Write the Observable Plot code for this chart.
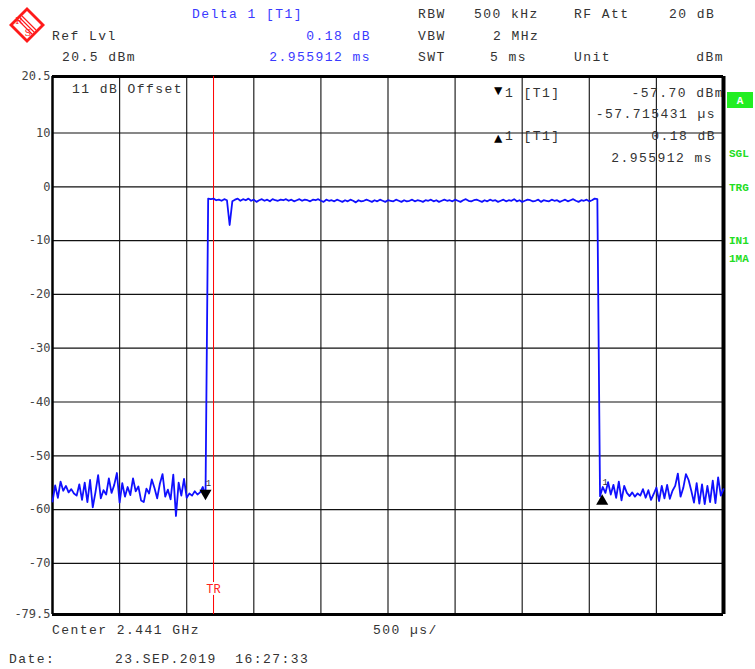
<!DOCTYPE html>
<html>
<head>
<meta charset="utf-8">
<script src="https://cdn.jsdelivr.net/npm/d3@7"></script>
<script src="https://cdn.jsdelivr.net/npm/@observablehq/plot@0.6"></script>
<style>
  html, body { margin: 0; padding: 0; background: #fff; }
  #chart svg { display: block; }
</style>
</head>
<body>
<div id="chart"></div>
<script>
// ---- data ----
const sampleStepMs = 0.02; // sweep point spacing (5 ms / 250)
const noiseLeft = [-58.5,-55.5,-57.8,-54.8,-56.5,-55.6,-56.8,-56.2,-57.0,-57.4,
  -55.3,-58.2,-55.0,-58.6,-54.5,-59.6,-56.8,-53.6,-57.9,-56.4,
  -57.2,-54.2,-56.9,-55.4,-53.2,-58.7,-55.1,-57.6,-55.8,-57.3,
  -54.2,-56.6,-55.7,-58.3,-58.6,-56.1,-57.0,-54.4,-56.0,-57.9,
  -55.2,-53.4,-57.6,-56.3,-58.1,-53.5,-61.2,-55.0,-57.4,-54.3,
  -57.8,-57.0,-57.4,-56.6,-57.2,-56.8,-55.8,-57.7];
const plateau = [-2.2,-2.3,-2.2,-2.5,-2.4,-2.6,-2.3,-2.5,-7.1,-2.7,
  -2.4,-2.2,-2.6,-2.3,-2.5,-2.2,-2.6,-2.4,-2.8,-2.5,
  -2.3,-2.6,-2.4,-2.7,-2.3,-2.5,-2.6,-2.4,-2.5,-2.3,
  -2.6,-2.4,-2.7,-2.5,-2.3,-2.6,-2.4,-2.5,-2.7,-2.4,
  -2.5,-2.3,-2.6,-2.8,-2.4,-2.6,-2.5,-2.7,-2.4,-2.6,
  -2.8,-2.5,-2.7,-2.4,-2.6,-2.9,-2.5,-2.7,-2.6,-2.4,
  -2.6,-2.8,-2.5,-2.7,-2.4,-2.6,-2.8,-2.5,-2.6,-2.7,
  -2.4,-2.6,-2.8,-2.5,-2.7,-2.6,-2.4,-2.7,-2.5,-2.6,
  -2.8,-2.5,-2.6,-2.4,-2.7,-2.5,-2.8,-2.6,-2.4,-2.6,
  -2.5,-2.7,-2.4,-2.6,-2.8,-2.5,-2.3,-2.6,-2.7,-2.5,
  -2.4,-2.6,-2.8,-2.5,-2.7,-2.4,-2.6,-2.5,-2.8,-2.6,
  -2.4,-2.7,-2.5,-2.6,-2.3,-2.7,-2.5,-2.8,-2.6,-2.4,
  -2.5,-2.7,-2.6,-2.4,-2.8,-2.5,-2.6,-2.7,-2.4,-2.6,
  -2.5,-2.8,-2.6,-2.4,-2.7,-2.5,-2.3,-2.6,-2.8,-2.5,
  -2.6,-2.4,-2.7,-2.5,-2.2,-2.3];
const noiseRight = [-57.5,-55.8,-56.9,-54.9,-57.2,-55.4,-57.8,-54.8,-58.3,-55.6,
  -56.9,-57.5,-56.8,-57.6,-57.0,-57.4,-56.2,-57.8,-56.4,-58.2,
  -57.1,-55.9,-58.4,-55.6,-57.9,-55.4,-58.0,-56.5,-55.6,-53.3,
  -57.6,-56.0,-53.4,-54.5,-56.5,-58.7,-55.1,-58.9,-55.3,-59.0,
  -55.6,-58.6,-54.6,-58.8,-54.0,-57.4,-56.2];
const markerTimes = [1.14, 4.096];
const markerLevels = [-57.70, -57.52];
const markerDirs = ["down", "up"];
const triggerTime = [1.2];
const xDomain = [0, 5];
const yDomain = [-79.5, 20.5];
const xGridTicks = [0.5, 1, 1.5, 2, 2.5, 3, 3.5, 4, 4.5];
const yGridTicks = [10, 0, -10, -20, -30, -40, -50, -60, -70];
const yTickLabels = [20.5, 10, 0, -10, -20, -30, -40, -50, -60, -70, -79.5];

const levels = [...noiseLeft, ...plateau, ...noiseRight];
const trace = levels.map((v, i) => ({t: i * sampleStepMs, dbm: v}));
const markers = markerTimes.map((t, i) => ({t, dbm: markerLevels[i], dir: markerDirs[i]}));

const mono = "'Liberation Mono', 'DejaVu Sans Mono', monospace";

const chart = Plot.plot({
  width: 755,
  height: 669,
  marginLeft: 52,
  marginRight: 32,
  marginTop: 76,
  marginBottom: 55,
  style: {background: "#fff", fontFamily: "'DejaVu Sans Mono', monospace", fontSize: "12px", color: "#333"},
  x: {domain: xDomain, axis: null},
  y: {domain: yDomain, axis: null},
  marks: [
    Plot.gridX(xGridTicks, {stroke: "#222", strokeOpacity: 1, strokeWidth: 1.2}),
    Plot.gridY(yGridTicks, {stroke: "#111", strokeOpacity: 1, strokeWidth: 1.2}),
    Plot.ruleY([yDomain[1]], {stroke: "#000", strokeWidth: 3}),
    Plot.ruleY([yDomain[0]], {stroke: "#000", strokeWidth: 3}),
    Plot.ruleX([xDomain[0]], {stroke: "#000", strokeWidth: 2.5}),
    Plot.ruleX([xDomain[1]], {stroke: "#000", strokeWidth: 4}),
    Plot.axisY(yTickLabels, {label: null, tickSize: 0, tickPadding: 2, tickFormat: d => String(d), fill: "#444", fontSize: 12}),
    Plot.ruleX(triggerTime, {stroke: "#ff0000", strokeWidth: 1}),
    Plot.text(triggerTime, {x: d => d, frameAnchor: "bottom", dy: -22, text: () => "TR", fill: "#ff2020", stroke: "#fff", strokeWidth: 4, fontFamily: mono, fontSize: 12}),
    Plot.line(trace, {x: "t", y: "dbm", stroke: "#1010ff", strokeWidth: 1.8}),
    Plot.dot(markers, {x: "t", y: "dbm", symbol: "triangle", r: 4.5, fill: "#000", stroke: "none",
      rotate: d => d.dir === "down" ? 180 : 0}),
    Plot.text(markers, {x: "t", y: "dbm", text: () => "1", dx: 3, dy: -14, fill: "#333", fontSize: 9, fontFamily: mono})
  ]
});

// adjust marker triangle offsets so the tips touch the trace points
d3.select(chart).selectAll("g[aria-label='dot'] path").each(function(d, i) {
  const el = d3.select(this);
  const tr = el.attr("transform");
  const off = markers[i].dir === "down" ? -4 : 5;
  el.attr("transform", `translate(0,${off}) ` + tr);
});

const svg = d3.select(chart);
function txt(x, y, s, o = {}) {
  svg.append("text")
    .attr("x", x).attr("y", y)
    .attr("text-anchor", o.anchor || "start")
    .attr("fill", o.fill || "#333")
    .attr("font-family", o.family || mono)
    .attr("font-size", o.size || 13)
    .attr("font-weight", o.weight || "normal")
    .attr("letter-spacing", o.ls != null ? o.ls : 1.45)
    .style("white-space", "pre")
    .text(s);
}
const blue = "#3a3aff";
// logo
const logo = svg.append("g").attr("transform", "translate(27,25)");
logo.append("path").attr("d", "M0,-18 L18,0 L0,18 L-18,0 Z").attr("fill", "#ff1a1a");
logo.append("path").attr("d", "M0,-14 L14,0 L0,14 L-14,0 Z").attr("fill", "#fff");
logo.append("path").attr("d", "M-9,-5 L5,9 M-7,-7 L7,7 M-5,-9 L9,5").attr("stroke", "#ff1a1a").attr("stroke-width", 1.2);
logo.append("text").attr("x", -8).attr("y", -1).attr("font-size", 10).attr("fill", "#ff1a1a").attr("font-family", "'DejaVu Serif', serif").text("R");
logo.append("text").attr("x", 1).attr("y", 11).attr("font-size", 10).attr("fill", "#ff1a1a").attr("font-family", "'DejaVu Serif', serif").text("S");

// header
txt(192, 18, "Delta 1 [T1]", {fill: blue});
txt(418, 18, "RBW");
txt(474, 18, "500 kHz");
txt(574, 18, "RF Att");
txt(669, 18, "20 dB");
txt(52, 40, "Ref Lvl");
txt(371, 40, "0.18 dB", {fill: blue, anchor: "end"});
txt(418, 40, "VBW");
txt(493, 40, "2 MHz");
txt(62, 61, "20.5 dBm");
txt(371, 61, "2.955912 ms", {fill: blue, anchor: "end"});
txt(418, 61, "SWT");
txt(490, 61, "5 ms");
txt(574, 61, "Unit");
txt(724, 61, "dBm", {anchor: "end"});

// in-plot info
txt(72, 93, "11 dB Offset");
txt(494, 95, "▼", {size: 14, ls: 0, fill: "#000"});
txt(505, 97, "1 [T1]");
txt(724, 97, "-57.70 dBm", {anchor: "end"});
txt(716, 118, "-57.715431 µs", {anchor: "end"});
txt(494, 143, "▲", {size: 14, ls: 0, fill: "#000"});
txt(505, 140, "1 [T1]");
txt(716, 140, "0.18 dB", {anchor: "end"});
txt(713, 162, "2.955912 ms", {anchor: "end"});

// side status
svg.append("rect").attr("x", 727).attr("y", 92).attr("width", 26).attr("height", 16).attr("fill", "#22ee22");
txt(740, 104, "A", {anchor: "middle", fill: "#fff", size: 11, weight: "bold", ls: 0});
const green = "#22dd22";
txt(729, 157, "SGL", {fill: green, size: 11, weight: "bold", ls: 0});
txt(729, 191, "TRG", {fill: green, size: 11, weight: "bold", ls: 0});
txt(729, 244, "IN1", {fill: green, size: 11, weight: "bold", ls: 0});
txt(729, 262, "1MA", {fill: green, size: 11, weight: "bold", ls: 0});

// footer
txt(52, 634, "Center 2.441 GHz");
txt(373, 634, "500 µs/");
txt(9, 663, "Date:");
txt(115, 663, "23.SEP.2019  16:27:33");

document.getElementById("chart").appendChild(chart);
</script>
</body>
</html>
